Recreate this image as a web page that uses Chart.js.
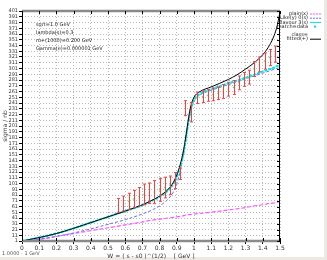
<!DOCTYPE html>
<html>
<head>
<meta charset="utf-8">
<script src="https://cdn.jsdelivr.net/npm/chart.js@4.4.1/dist/chart.umd.min.js"></script>
<style>
  html, body { margin: 0; padding: 0; background: #fff; }
  canvas { display: block; }
</style>
</head>
<body>
<canvas id="sigmaChart" width="327" height="260"></canvas>
<script>
const xTickValues = [0, 0.1, 0.2, 0.3, 0.4, 0.5, 0.6, 0.7, 0.8, 0.9, 1, 1.1, 1.2, 1.3, 1.4, 1.5];
const xTickLabels = ['0', '0.1', '0.2', '0.3', '0.4', '0.5', '0.6', '0.7', '0.8', '0.9', '1', '1.1', '1.2', '1.3', '1.4', '1.5'];
const yTickValues = [1, 11, 21, 31, 41, 51, 61, 71, 81, 91, 101, 111, 121, 131, 141, 151, 161, 171, 181, 191,
  201, 211, 221, 231, 241, 251, 261, 271, 281, 291, 301, 311, 321, 331, 341, 351, 361, 371, 381, 391, 401];

// curves, all on the same W grid
const curveW = [0, 0.1, 0.2, 0.3, 0.4, 0.5, 0.6, 0.7, 0.75, 0.8, 0.85, 0.88, 0.9, 0.92, 0.94, 0.95,
  0.96, 0.97, 0.98, 1.0, 1.03, 1.1, 1.2, 1.25, 1.3, 1.35, 1.4, 1.43, 1.46, 1.48, 1.49, 1.5];
const fitted = [1, 7, 14, 23, 33, 43, 53, 64, 71, 79, 91, 103, 116, 134, 160, 178,
  198, 218, 234, 251, 260, 269, 282, 290, 300, 311, 325, 337, 354, 371, 384, 400];
const flavour = [1, 7, 14, 23, 33, 43, 53, 63, 70, 78, 89, 100, 112, 130, 155, 173,
  193, 212, 228, 246, 256, 265, 275, 280, 285, 290, 296, 299, 302, 305, 306, 307];
const likely = [1, 4, 9, 15, 22, 30, 38, 48, 54, 62, 74, 86, 100, 122, 155, 172,
  192, 210, 226, 244, 254, 263, 273, 278, 283, 288, 293, 296, 299, 301, 302, 303];
const plain = [1, 4, 9, 14, 19, 24, 29, 34, 37, 39, 41, 42, 43, 44, 45, 46,
  46, 47, 47, 48, 49, 51, 55, 57, 59, 62, 64, 66, 67, 68, 69, 69];

// measured points with errors
const dataW = [0.56, 0.59, 0.62, 0.65, 0.68, 0.71, 0.74, 0.77, 0.80, 0.83, 0.86, 0.89, 0.92, 0.95, 0.985,
  1.02, 1.05, 1.08, 1.11, 1.14, 1.17, 1.2, 1.23, 1.26, 1.29, 1.32, 1.35, 1.38, 1.41, 1.44, 1.47];
const dataSigma = [63, 66, 70, 74, 78, 82, 84, 86, 90, 94, 98, 106, 118, 232, 225,
  250, 252, 254, 256, 258, 261, 265, 268, 276, 282, 286, 300, 308, 314, 320, 326];
const dataErr = [12, 13, 14, 15, 16, 18, 18, 20, 20, 18, 16, 14, 10, 13, 17,
  10, 10, 10, 11, 11, 12, 12, 12, 12, 12, 12, 13, 13, 14, 14, 14];

const infoLines = ['sqrt=1.0 GeV', 'lambda(s)=0.3', 'm+(1000)=0.200 GeV', 'Gamma(e)=0.000001 GeV'];
const legendItems = [
  { text: 'plain(x)', color: '#ff55ff', dash: [2, 1] },
  { text: 'Like(y) 0(s)', color: '#7070ff', dash: [2, 1] },
  { text: 'flavour 3(s)', color: '#00e0e0', dash: [] },
  { text: 'match=data', color: '#00e0e0', dot: true },
  { text: '', color: null },
  { text: 'class=', color: null },
  { text: 'fitted(+)', color: '#000', dash: [] }
];

const FONT = 'DejaVu Sans';

function toPoints(ys) {
  return curveW.map((w, i) => ({ x: w, y: ys[i] }));
}

const errorBars = {
  id: 'errorBars',
  afterDatasetsDraw(chart) {
    const { ctx, scales: { x, y } } = chart;
    ctx.save();
    ctx.strokeStyle = '#ff3b3b';
    ctx.lineWidth = 1;
    dataW.forEach((w, i) => {
      const px = Math.round(x.getPixelForValue(w)) + 0.5;
      const top = y.getPixelForValue(dataSigma[i] + dataErr[i]);
      const bot = y.getPixelForValue(dataSigma[i] - dataErr[i]);
      ctx.beginPath();
      ctx.moveTo(px, top); ctx.lineTo(px, bot);
      ctx.moveTo(px - 1.5, top); ctx.lineTo(px + 1.5, top);
      ctx.moveTo(px - 1.5, bot); ctx.lineTo(px + 1.5, bot);
      ctx.stroke();
    });
    ctx.restore();
  }
};

const frame = {
  id: 'frame',
  beforeDraw(chart) {
    const ctx = chart.ctx;
    ctx.save();
    ctx.fillStyle = '#fff';
    ctx.fillRect(0, 0, chart.width, chart.height);
    ctx.fillStyle = '#ece9e4';
    ctx.fillRect(324, 0, 3, 260);
    ctx.fillRect(0, 257, 327, 3);
    ctx.restore();
  },
  afterDraw(chart) {
    const { ctx, chartArea: a, scales: { x, y } } = chart;
    ctx.save();
    // frame
    ctx.lineWidth = 2.5;
    ctx.strokeStyle = '#8a8a8a';
    ctx.beginPath();
    ctx.moveTo(a.left, a.top); ctx.lineTo(a.right, a.top);
    ctx.moveTo(a.left, a.bottom); ctx.lineTo(a.right, a.bottom);
    ctx.stroke();
    ctx.lineWidth = 1;
    ctx.strokeStyle = '#000';
    ctx.beginPath();
    ctx.moveTo(a.left + 0.5, a.top); ctx.lineTo(a.left + 0.5, a.bottom);
    ctx.moveTo(a.right - 0.5, a.top); ctx.lineTo(a.right - 0.5, a.bottom);
    x.ticks.forEach(t => {
      const px = Math.round(x.getPixelForValue(t.value)) + 0.5;
      ctx.moveTo(px, a.top); ctx.lineTo(px, a.top + 3);
      ctx.moveTo(px, a.bottom); ctx.lineTo(px, a.bottom - 3);
    });
    y.ticks.forEach(t => {
      const py = Math.round(y.getPixelForValue(t.value)) + 0.5;
      ctx.moveTo(a.right, py); ctx.lineTo(a.right - 3, py);
    });
    ctx.stroke();

    // info text
    ctx.fillStyle = '#222';
    ctx.font = '5px "' + FONT + '"';
    ctx.textBaseline = 'middle';
    infoLines.forEach((s, i) => ctx.fillText(s, 36, 25 + i * 8));

    // legend
    legendItems.forEach((it, i) => {
      const ly = 14 + i * 4.2;
      ctx.fillStyle = '#222';
      ctx.textAlign = 'right';
      ctx.fillText(it.text, 308, ly);
      if (it.color) {
        ctx.strokeStyle = it.color;
        ctx.fillStyle = it.color;
        if (it.dot) {
          ctx.fillRect(314, ly - 1, 2, 2);
        } else {
          ctx.setLineDash(it.dash);
          ctx.beginPath();
          ctx.moveTo(310, ly); ctx.lineTo(321, ly);
          ctx.stroke();
          ctx.setLineDash([]);
        }
      }
    });

    // bottom-left note
    ctx.textAlign = 'left';
    ctx.fillStyle = '#555';
    ctx.fillText('1.0000 - 1 GeV', 2, 254);
    ctx.restore();
  }
};

const ctx = document.getElementById('sigmaChart').getContext('2d');
const sigmaChart = new Chart(ctx, {
  type: 'scatter',
  data: {
    datasets: [
      { label: 'fitted(+)', data: toPoints(fitted), showLine: true, borderColor: '#000', borderWidth: 1,
        pointRadius: 0, cubicInterpolationMode: 'monotone' },
      { label: 'match=data', data: dataW.map((w, i) => ({ x: w, y: dataSigma[i] })), showLine: false,
        pointRadius: 1, pointBorderWidth: 0, pointBackgroundColor: '#5ee05e', pointStyle: 'rect' },
      { label: 'flavour 3(s)', data: toPoints(flavour), showLine: true, borderColor: '#00e5e5', borderWidth: 2,
        borderDash: [3, 1], pointRadius: 0, cubicInterpolationMode: 'monotone' },
      { label: 'Like(y) 0(s)', data: toPoints(likely), showLine: true, borderColor: '#6a6aff', borderWidth: 1,
        borderDash: [3, 2], pointRadius: 0, cubicInterpolationMode: 'monotone' },
      { label: 'plain(x)', data: toPoints(plain), showLine: true, borderColor: '#ff55ff', borderWidth: 1.2,
        borderDash: [4, 2], pointRadius: 0, cubicInterpolationMode: 'monotone' }
    ]
  },
  options: {
    responsive: false,
    animation: false,
    devicePixelRatio: 1,
    layout: { padding: { top: 11, right: 47, left: 0, bottom: 0 } },
    plugins: { legend: { display: false }, tooltip: { enabled: false } },
    scales: {
      x: {
        type: 'linear', min: 0, max: 1.5,
        afterBuildTicks: s => { s.ticks = xTickValues.map(v => ({ value: v })); },
        afterFit: s => { s.height = 19; },
        ticks: { autoSkip: false, maxRotation: 0, padding: 1, color: '#333',
          font: { family: FONT, size: 6 }, callback: (v, i) => xTickLabels[i] },
        grid: { color: '#b8b8b8', lineWidth: 1, drawTicks: true, tickLength: 3, tickColor: '#000' },
        border: { display: false, dash: [1, 2] },
        title: { display: true, text: 'W = ( s - s0 )^(1/2)    [ GeV ]', color: '#333',
          font: { family: FONT, size: 6 }, padding: { top: 0, bottom: 0 } }
      },
      y: {
        type: 'linear', min: 1, max: 401,
        afterBuildTicks: s => { s.ticks = yTickValues.map(v => ({ value: v })); },
        afterFit: s => { s.width = 22; },
        ticks: { autoSkip: false, padding: 1, color: '#333', font: { family: FONT, size: 5 } },
        grid: { color: '#b8b8b8', lineWidth: 1, drawTicks: true, tickLength: 3, tickColor: '#000' },
        border: { display: false, dash: [1, 2] },
        title: { display: true, text: 'sigma / nb', color: '#333',
          font: { family: FONT, size: 6 }, padding: { top: 2, bottom: 0 } }
      }
    }
  },
  plugins: [errorBars, frame]
});
</script>
</body>
</html>
